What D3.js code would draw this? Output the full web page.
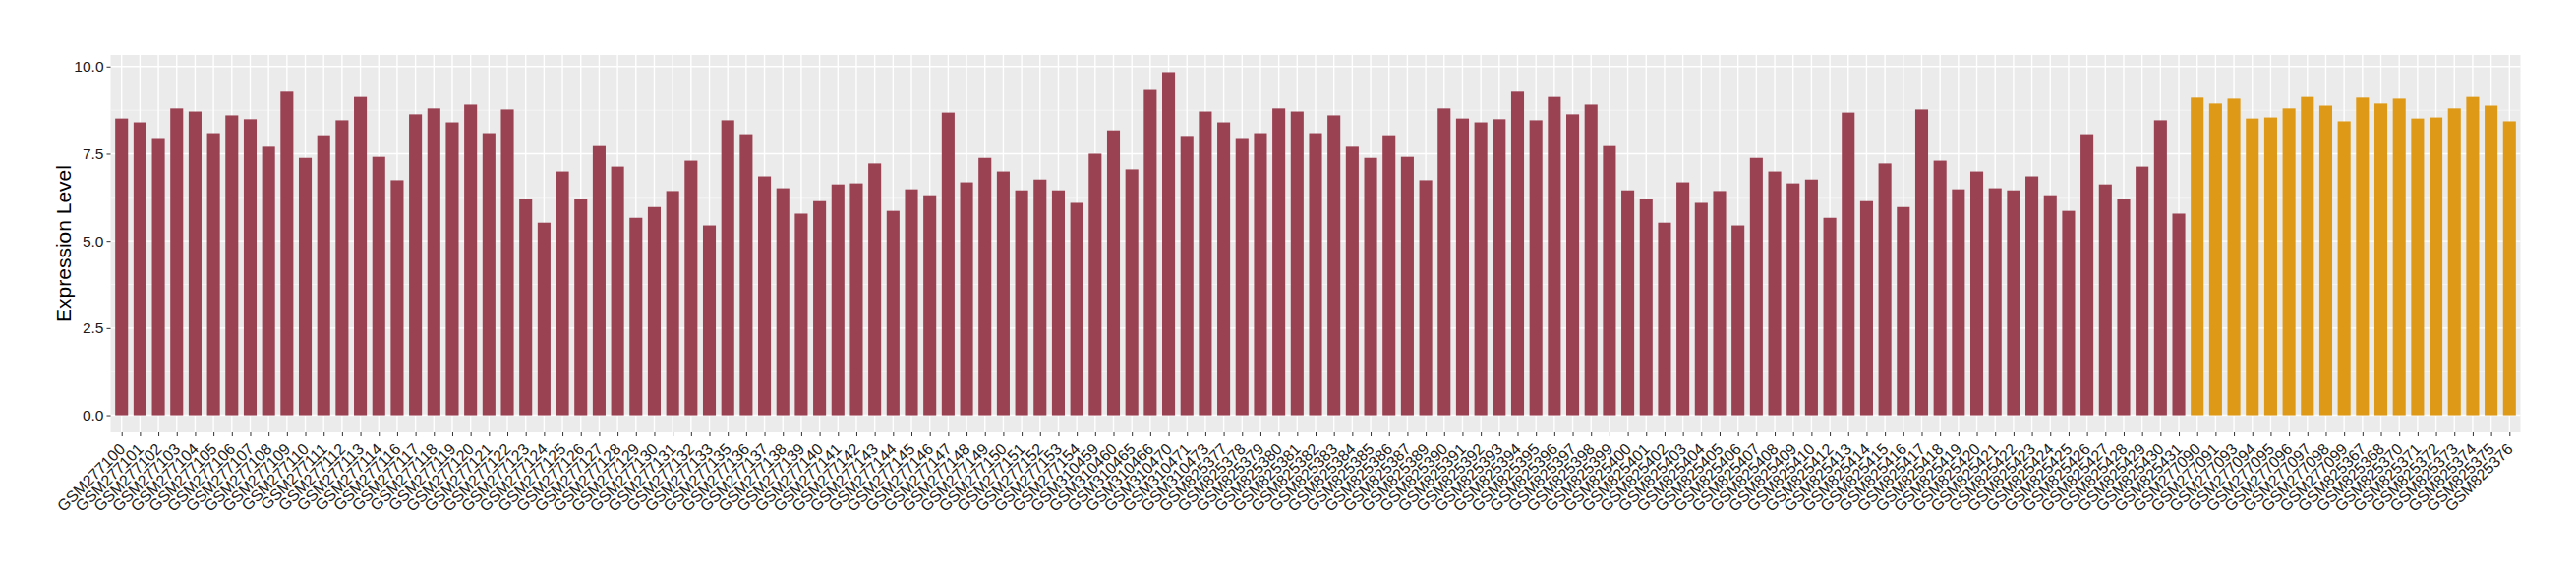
<!DOCTYPE html>
<html>
<head>
<meta charset="utf-8">
<script src="https://cdn.jsdelivr.net/npm/d3@7"></script>
<style>
  body { margin: 0; background: #fff; }
  svg { display: block; }
  text { font-family: "Liberation Sans", Arial, Helvetica, sans-serif; }
</style>
</head>
<body>
<svg id="chart" width="2620" height="580"></svg>
<script>
// samples of the first group (dark red)
const samplesA = [
  "GSM277100","GSM277101","GSM277102","GSM277103","GSM277104","GSM277105","GSM277106","GSM277107",
  "GSM277108","GSM277109","GSM277110","GSM277111","GSM277112","GSM277113","GSM277114","GSM277116",
  "GSM277117","GSM277118","GSM277119","GSM277120","GSM277121","GSM277122","GSM277123","GSM277124",
  "GSM277125","GSM277126","GSM277127","GSM277128","GSM277129","GSM277130","GSM277131","GSM277132",
  "GSM277133","GSM277135","GSM277136","GSM277137","GSM277138","GSM277139","GSM277140","GSM277141",
  "GSM277142","GSM277143","GSM277144","GSM277145","GSM277146","GSM277147","GSM277148","GSM277149",
  "GSM277150","GSM277151","GSM277152","GSM277153","GSM277154",
  "GSM310459","GSM310460","GSM310465","GSM310466","GSM310470","GSM310471","GSM310473",
  "GSM825377","GSM825378","GSM825379","GSM825380","GSM825381","GSM825382","GSM825383","GSM825384",
  "GSM825385","GSM825386","GSM825387","GSM825389","GSM825390","GSM825391","GSM825392","GSM825393",
  "GSM825394","GSM825395","GSM825396","GSM825397","GSM825398","GSM825399","GSM825400","GSM825401",
  "GSM825402","GSM825403","GSM825404","GSM825405","GSM825406","GSM825407","GSM825408","GSM825409",
  "GSM825410","GSM825412","GSM825413","GSM825414","GSM825415","GSM825416","GSM825417","GSM825418",
  "GSM825419","GSM825420","GSM825421","GSM825422","GSM825423","GSM825424","GSM825425","GSM825426",
  "GSM825427","GSM825428","GSM825429","GSM825430","GSM825431"
];
const valuesA = [
  8.51,8.40,7.95,8.80,8.71,8.09,8.60,8.49,7.70,9.28,7.38,8.03,8.46,9.13,7.41,6.74,
  8.63,8.80,8.40,8.91,8.09,8.77,6.20,5.52,6.99,6.20,7.72,7.13,5.66,5.97,6.43,7.30,
  5.44,8.46,8.06,6.85,6.51,5.78,6.14,6.62,6.65,7.22,5.86,6.48,6.31,8.68,6.68,7.38,
  6.99,6.45,6.76,6.45,6.09,
  7.50,8.17,7.05,9.33,9.84,8.01,8.71,
  8.40,7.95,8.09,8.80,8.71,8.09,8.60,7.70,7.38,8.03,7.41,6.74,8.80,8.51,8.40,8.49,
  9.28,8.46,9.13,8.63,8.91,7.72,6.45,6.20,5.52,6.68,6.09,6.43,5.44,7.38,6.99,6.65,
  6.76,5.66,8.68,6.14,7.22,5.97,8.77,7.30,6.48,6.99,6.51,6.45,6.85,6.31,5.86,8.06,
  6.62,6.20,7.13,8.46,5.78
];

// samples of the second group (orange)
const samplesB = [
  "GSM277090","GSM277091","GSM277093","GSM277094","GSM277095","GSM277096","GSM277097","GSM277098",
  "GSM277099","GSM825367","GSM825368","GSM825370","GSM825371","GSM825372","GSM825373","GSM825374",
  "GSM825375","GSM825376"
];
const valuesB = [
  9.11,8.94,9.08,8.51,8.54,8.80,9.13,8.88,8.43,9.11,8.94,9.08,8.51,8.54,8.80,9.13,8.88,8.43
];

const yTicks = [0, 2.5, 5, 7.5, 10];
const yTitle = "Expression Level";
const colorA = "#9A4152", colorB = "#DE9916";

const W = 2620, H = 580;
const margin = {top: 56, right: 56.5, bottom: 140, left: 112.5};

let rows = [];
samplesA.forEach((s, i) => rows.push({sample: s, value: valuesA[i], grp: "A"}));
samplesB.forEach((s, i) => rows.push({sample: s, value: valuesB[i], grp: "B"}));

const svg = d3.select("#chart");

let maxV = d3.max(rows, d => d.value);
let y = d3.scaleLinear()
  .domain([-0.05 * maxV, maxV * 1.05])
  .range([H - margin.bottom, margin.top]);

let x = d3.scalePoint()
  .domain(rows.map(d => d.sample))
  .range([margin.left, W - margin.right])
  .padding(0.6);
let barW = x.step() * 0.7;

// panel
svg.append("rect")
  .attr("x", margin.left).attr("y", margin.top)
  .attr("width", W - margin.left - margin.right)
  .attr("height", H - margin.top - margin.bottom)
  .attr("fill", "#EBEBEB");

// minor grid
let minor = [];
for (let i = 0; i < yTicks.length - 1; i++) minor.push((yTicks[i] + yTicks[i + 1]) / 2);
svg.append("g").selectAll("line").data(minor).enter().append("line")
  .attr("x1", margin.left).attr("x2", W - margin.right)
  .attr("y1", d => y(d)).attr("y2", d => y(d))
  .attr("stroke", "#F7F7F7").attr("stroke-width", 0.8);

// major grid
svg.append("g").selectAll("line").data(yTicks).enter().append("line")
  .attr("x1", margin.left).attr("x2", W - margin.right)
  .attr("y1", d => y(d)).attr("y2", d => y(d))
  .attr("stroke", "#fff").attr("stroke-width", 1.4);
svg.append("g").selectAll("line").data(rows).enter().append("line")
  .attr("x1", d => x(d.sample)).attr("x2", d => x(d.sample))
  .attr("y1", margin.top).attr("y2", H - margin.bottom)
  .attr("stroke", "#fff").attr("stroke-width", 1.4);

// bars
svg.append("g").selectAll("rect").data(rows).enter().append("rect")
  .attr("x", d => x(d.sample) - barW / 2)
  .attr("width", barW)
  .attr("y", d => y(d.value))
  .attr("height", d => y(0) - y(d.value))
  .attr("fill", d => d.grp == "A" ? colorA : colorB);

// y axis
let yAxis = svg.append("g")
  .attr("transform", "translate(" + margin.left + ",0)")
  .call(d3.axisLeft(y).tickValues(yTicks).tickFormat(d3.format(".1f")).tickSize(4).tickPadding(3));
yAxis.select(".domain").remove();
yAxis.selectAll(".tick line").attr("stroke", "#333");
yAxis.selectAll(".tick text").attr("fill", "#1a1a1a").style("font-size", "15.5px")
  .style("font-family", '"Liberation Sans", Arial, sans-serif');

// x axis
let xAxis = svg.append("g")
  .attr("transform", "translate(0," + (H - margin.bottom) + ")")
  .call(d3.axisBottom(x).tickSize(4).tickPadding(3));
xAxis.select(".domain").remove();
xAxis.selectAll(".tick line").attr("stroke", "#333");
xAxis.selectAll(".tick text")
  .attr("fill", "#1a1a1a")
  .style("font-size", "16px")
  .style("font-family", '"Liberation Sans", Arial, sans-serif')
  .attr("text-anchor", "end")
  .attr("y", 0).attr("dy", 0)
  .attr("transform", "translate(4,18) rotate(-45)");

// y title
svg.append("text")
  .attr("transform", "translate(72," + ((margin.top + H - margin.bottom) / 2) + ") rotate(-90)")
  .attr("text-anchor", "middle")
  .style("font-size", "21px")
  .attr("fill", "#000")
  .text(yTitle);
</script>
</body>
</html>
